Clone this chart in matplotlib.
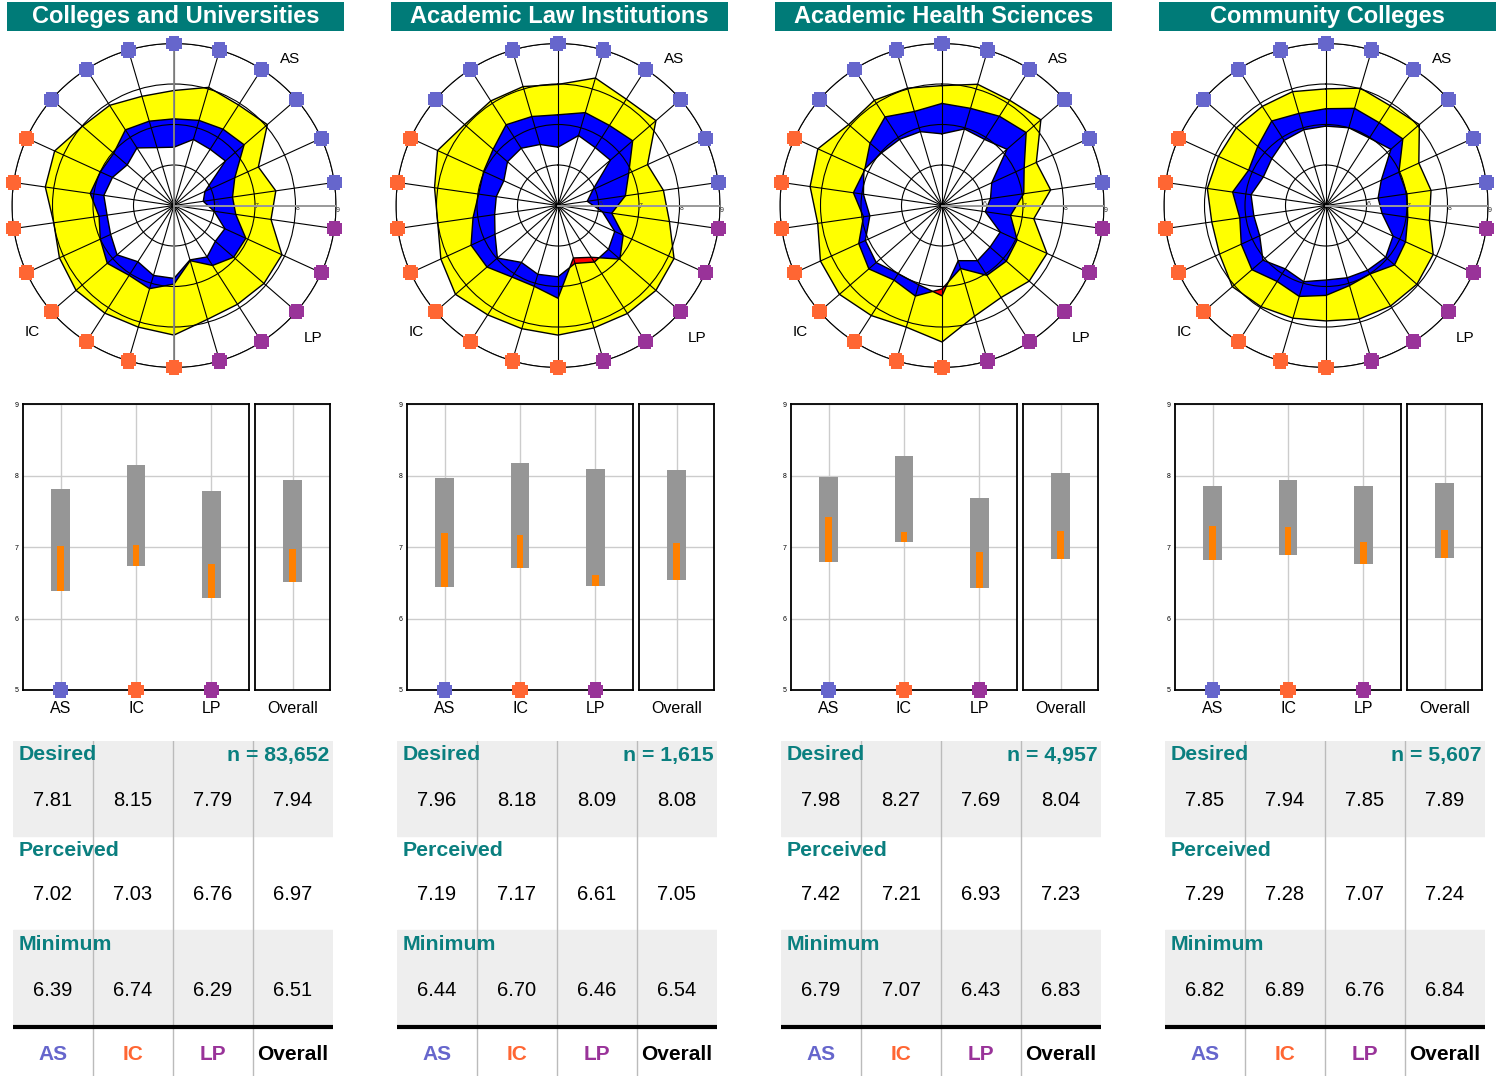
import numpy as np
import matplotlib
matplotlib.use("Agg")
import matplotlib.pyplot as plt
from matplotlib.path import Path

plt.rcParams['font.family'] = ['Liberation Sans', 'DejaVu Sans']

# ---------------- data ----------------
titles = ["Colleges and Universities", "Academic Law Institutions",
          "Academic Health Sciences", "Community Colleges"]
n_labels = ["83,652", "1,615", "4,957", "5,607"]

# dimension of each of the 22 radar spokes, clockwise from the top
spoke_dims = ['AS'] * 6 + ['LP'] * 5 + ['IC'] * 8 + ['AS'] * 3

cu_desired = [7.84, 8.04, 7.95, 8.05, 7.29, 7.54, 7.42, 7.93, 7.94, 7.90, 7.93,
              8.20, 8.13, 8.16, 8.20, 8.11, 8.00, 8.21, 8.24, 7.99, 7.94, 7.81]
cu_perceived = [7.14, 7.19, 7.24, 7.29, 6.65, 6.46, 6.54, 6.95, 6.95, 6.76, 6.42,
                6.94, 7.14, 7.05, 7.18, 7.00, 6.87, 7.09, 7.00, 6.97, 7.22, 7.17]
cu_minimum = [6.44, 6.70, 6.65, 6.68, 5.84, 5.73, 6.00, 6.38, 6.35, 6.51, 6.40,
              6.80, 6.80, 6.65, 6.86, 6.72, 6.67, 6.75, 6.67, 6.53, 6.69, 6.49]

ali_desired = [7.99, 8.28, 8.12, 8.20, 7.43, 7.63, 7.78, 8.15, 8.20, 8.17, 8.15,
               8.20, 8.17, 8.21, 8.35, 8.18, 8.00, 8.08, 8.27, 8.05, 8.07, 8.06]
ali_perceived = [7.24, 7.39, 7.35, 7.44, 6.92, 6.68, 6.34, 6.77, 7.02, 6.52, 6.35,
                 7.29, 7.08, 7.10, 7.32, 7.36, 7.12, 6.98, 7.02, 7.12, 7.37, 7.29]
ali_minimum = [6.44, 6.80, 6.70, 6.71, 5.95, 5.73, 6.11, 6.54, 6.65, 6.66, 6.49,
               6.76, 6.77, 6.67, 6.98, 6.71, 6.58, 6.54, 6.47, 6.65, 6.68, 6.57]

ahs_desired = [7.96, 8.12, 8.09, 8.23, 7.56, 7.71, 7.29, 7.85, 7.85, 7.70, 7.85,
               8.37, 8.13, 8.23, 8.35, 8.30, 8.10, 8.29, 8.37, 8.05, 8.09, 8.02]
ahs_perceived = [7.52, 7.50, 7.62, 7.75, 7.23, 7.04, 6.71, 7.04, 7.10, 7.05, 6.62,
                 7.06, 7.33, 7.19, 7.39, 7.26, 6.96, 7.21, 7.10, 7.35, 7.60, 7.42]
ahs_minimum = [6.77, 6.97, 6.94, 7.12, 6.35, 6.21, 6.08, 6.58, 6.57, 6.62, 6.42,
               7.23, 7.04, 7.00, 7.15, 7.08, 6.80, 6.96, 7.12, 6.98, 6.94, 6.90]

cc_desired = [7.88, 8.02, 7.93, 8.05, 7.52, 7.62, 7.58, 7.91, 7.97, 7.95, 7.92,
              7.85, 7.90, 7.97, 8.06, 7.89, 7.85, 7.96, 7.92, 7.93, 7.91, 7.93]
cc_perceived = [7.39, 7.50, 7.43, 7.51, 6.98, 7.02, 7.04, 7.16, 7.24, 7.01, 7.06,
                7.22, 7.34, 7.23, 7.42, 7.30, 7.15, 7.33, 7.10, 7.23, 7.48, 7.37]
cc_minimum = [6.96, 7.00, 6.98, 7.12, 6.50, 6.30, 6.40, 6.82, 6.95, 6.90, 6.86,
              6.84, 6.96, 6.86, 7.06, 6.80, 6.80, 6.87, 6.70, 6.77, 6.91, 6.95]

# summary table: AS, IC, LP, Overall
columns = ['AS', 'IC', 'LP', 'Overall']
cu_sum_desired = [7.81, 8.15, 7.79, 7.94]
cu_sum_perceived = [7.02, 7.03, 6.76, 6.97]
cu_sum_minimum = [6.39, 6.74, 6.29, 6.51]
ali_sum_desired = [7.96, 8.18, 8.09, 8.08]
ali_sum_perceived = [7.19, 7.17, 6.61, 7.05]
ali_sum_minimum = [6.44, 6.70, 6.46, 6.54]
ahs_sum_desired = [7.98, 8.27, 7.69, 8.04]
ahs_sum_perceived = [7.42, 7.21, 6.93, 7.23]
ahs_sum_minimum = [6.79, 7.07, 6.43, 6.83]
cc_sum_desired = [7.85, 7.94, 7.85, 7.89]
cc_sum_perceived = [7.29, 7.28, 7.07, 7.24]
cc_sum_minimum = [6.82, 6.89, 6.76, 6.84]

panels = [
    (cu_desired, cu_perceived, cu_minimum, cu_sum_desired, cu_sum_perceived, cu_sum_minimum),
    (ali_desired, ali_perceived, ali_minimum, ali_sum_desired, ali_sum_perceived, ali_sum_minimum),
    (ahs_desired, ahs_perceived, ahs_minimum, ahs_sum_desired, ahs_sum_perceived, ahs_sum_minimum),
    (cc_desired, cc_perceived, cc_minimum, cc_sum_desired, cc_sum_perceived, cc_sum_minimum),
]

# ---------------- styles ----------------
dim_colors = {'AS': '#6666CC', 'IC': '#FF6633', 'LP': '#993399', 'Overall': '#000000'}
TEAL = '#007B78'
TEAL_TXT = '#0A7F7F'
W, H = 1502, 1078

# notched-square marker
_a = 0.72
notch = Path([(-_a, 1), (_a, 1), (_a, _a), (1, _a), (1, -_a), (_a, -_a), (_a, -1),
              (-_a, -1), (-_a, -_a), (-1, -_a), (-1, _a), (-_a, _a), (-_a, 1)],
             closed=True)
MS = 120

fig = plt.figure(figsize=(W / 100, H / 100), dpi=100)
fig.patch.set_facecolor('white')


def px_axes(x0, y0, x1, y1, **kw):
    return fig.add_axes([x0 / W, 1 - y1 / H, (x1 - x0) / W, (y1 - y0) / H], **kw)


nsp = len(spoke_dims)
theta = np.arange(nsp) * 2 * np.pi / nsp
theta_c = np.append(theta, theta[0])

for i, (des, per, mn, sd, sp, sm) in enumerate(panels):
    off = 384 * i

    # ---- title bar ----
    tax = px_axes(7 + off, 2, 344 + off, 31)
    tax.set_facecolor(TEAL)
    tax.set_xticks([]); tax.set_yticks([])
    for s in tax.spines.values():
        s.set_visible(False)
    tax.text(0.5, 0.5, titles[i], color='white', fontsize=17, fontweight='bold',
             ha='center', va='center', transform=tax.transAxes)

    # ---- radar ----
    cx, cy, R = 174 + off, 205.5, 162
    rax = px_axes(cx - R, cy - R, cx + R, cy + R, projection='polar')
    rax.set_theta_zero_location('N')
    rax.set_theta_direction(-1)
    rax.set_ylim(5, 9)
    d = np.append(des, des[0]); p = np.append(per, per[0]); m = np.append(mn, mn[0])
    rax.fill(theta_c, d, color='#FFFF00', zorder=1.0, lw=0)
    rax.fill(theta_c, p, color='#0000FF', zorder=1.1, lw=0)
    red = rax.fill(theta_c, m, color='#FF0000', zorder=1.2, lw=0)
    wht = rax.fill(theta_c, p, color='white', zorder=1.3, lw=0)
    wht[0].set_clip_path(red[0])
    for arr in (d, p, m):
        rax.plot(theta_c, arr, color='black', lw=1.0, zorder=2)
    rax.set_xticks(theta)
    rax.set_xticklabels([])
    rax.set_yticks([6, 7, 8, 9])
    rax.set_yticklabels(['6', '7', '8', '9'], fontsize=5, color='#333333')
    rax.set_rlabel_position(93)
    rax.grid(True, color='black', lw=0.8)
    rax.set_axisbelow(False)
    rax.spines['polar'].set_color('black')
    rax.spines['polar'].set_linewidth(0.8)
    rax.plot([np.pi / 2, np.pi / 2], [5, 9], color='#999999', lw=1.4, zorder=4)
    if i == 0:
        rax.plot([0, 0], [5, 9], color='#888888', lw=1.3, zorder=4)
        rax.plot([np.pi, np.pi], [5, 9], color='#888888', lw=1.3, zorder=4)
    rax.scatter(theta, [9] * nsp, c=[dim_colors[k] for k in spoke_dims], marker=notch,
                s=MS, zorder=5, clip_on=False, linewidths=0)
    for lab, ang, rr in (('AS', 38.3, 9.62), ('IC', 228.2, 9.7), ('LP', 133.5, 9.74)):
        rax.text(np.deg2rad(ang), rr, lab, fontsize=11, ha='center', va='center',
                 clip_on=False)

    # ---- bar charts ----
    bax = px_axes(23 + off, 404, 249 + off, 690)
    oax = px_axes(255 + off, 404, 330 + off, 690)
    for ax, xs, dv, pv, mv, labs in (
            (bax, [0, 1, 2], sd[:3], sp[:3], sm[:3], columns[:3]),
            (oax, [0], sd[3:], sp[3:], sm[3:], columns[3:])):
        ax.set_ylim(5, 9)
        ax.set_xlim(min(xs) - 0.5, max(xs) + 0.5)
        ax.set_yticks([5, 6, 7, 8, 9])
        ax.set_xticks(xs)
        ax.grid(True, color='#CCCCCC', lw=1)
        ax.set_axisbelow(True)
        ax.bar(xs, np.array(dv) - np.array(mv), bottom=mv, width=0.25,
               color='#969696', zorder=2)
        ax.bar(xs, np.array(pv) - np.array(mv), bottom=mv, width=0.085,
               color='#FF8000', zorder=3)
        ax.set_xticklabels(labs, fontsize=11.5)
        ax.tick_params(axis='x', length=0, pad=8)
        ax.tick_params(axis='y', length=0, pad=3)
        for s in ax.spines.values():
            s.set_linewidth(1.3)
        if ax is bax:
            ax.set_yticklabels(['5', '6', '7', '8', '9'], fontsize=5)
            ax.scatter(xs, [5] * 3, c=[dim_colors[k] for k in labs], marker=notch,
                       s=MS, zorder=5, clip_on=False, linewidths=0)
        else:
            ax.set_yticklabels([])

    # ---- table ----
    tb = px_axes(13 + off, 741, 333 + off, 1076)
    tb.set_xlim(0, 4)
    tb.set_ylim(335, 0)
    tb.axis('off')
    tb.axhspan(0, 95, color='#EEEEEE', zorder=0)
    tb.axhspan(189, 284, color='#EEEEEE', zorder=0)
    for xv in (1, 2, 3):
        tb.plot([xv, xv], [0, 334], color='#BBBBBB', lw=1, zorder=1)
    tb.plot([0, 4], [285.5, 285.5], color='black', lw=3, zorder=2)
    rows = (('Desired', sd, 14, 60), ('Perceived', sp, 110, 154), ('Minimum', sm, 203, 249))
    for name, vals, ly, vy in rows:
        tb.text(0.075, ly, name, color=TEAL_TXT, fontsize=15.3, fontweight='bold',
                ha='left', va='center', zorder=3)
        for j, v in enumerate(vals):
            tb.text(j + 0.5, vy, f"{v:.2f}", fontsize=14.5, ha='center', va='center',
                    zorder=3)
    tb.text(3.96, 14, f"n = {n_labels[i]}", color=TEAL_TXT, fontsize=15.3,
            fontweight='bold', ha='right', va='center', zorder=3)
    for j, c in enumerate(columns):
        tb.text(j + 0.5, 314, c, color=dim_colors[c], fontsize=15, fontweight='bold',
                ha='center', va='center', zorder=3)

fig.savefig('out.png', dpi=100)
